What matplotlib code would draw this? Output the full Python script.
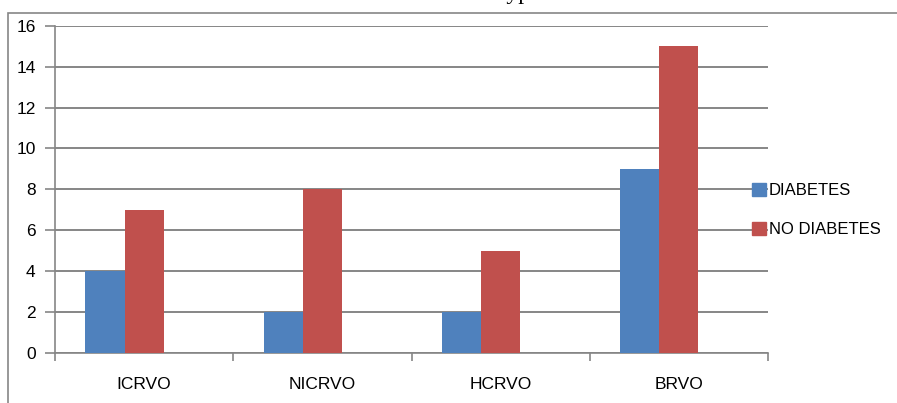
import numpy as np
import matplotlib
matplotlib.use("Agg")
import matplotlib.pyplot as plt
from matplotlib.patches import Rectangle, Patch

categories = ["ICRVO", "NICRVO", "HCRVO", "BRVO"]
diabetes = [4, 2, 2, 9]
no_diabetes = [7, 8, 5, 15]
series_names = ["DIABETES", "NO DIABETES"]
yticks = [0, 2, 4, 6, 8, 10, 12, 14, 16]

blue = "#4F81BD"
red = "#C0504D"
grid = "#868686"

W, H = 897, 403
fig = plt.figure(figsize=(W / 100, H / 100), dpi=100)
plt.rcParams['font.family'] = ['Liberation Sans', 'DejaVu Sans']

# outer chart frame (cut off on the right and bottom)
fig.patches.append(Rectangle((7.5 / W, -0.2), 1.2, 1.2 - 13 / H,
                             transform=fig.transFigure, fill=False,
                             edgecolor=grid, linewidth=1.2, clip_on=False))

# title text, cropped at the top edge as in the source image
fig.text(717 / W, 1 + 0.5 / H, "between Diabetes Mellitus and Type of Vein Occlusion",
         ha="right", va="baseline", fontsize=17, family="Liberation Serif")

ax = fig.add_axes([55 / W, (H - 353) / H, (768 - 55) / W, (353 - 25.7) / H])

x = np.arange(len(categories))
bw = 0.22
ax.bar(x - bw, diabetes, bw, color=blue, zorder=3)
ax.bar(x, no_diabetes, bw, color=red, zorder=3)

ax.set_xlim(-0.5, len(categories) - 0.5)
ax.set_ylim(0, 16)
ax.set_yticks(yticks)
ax.yaxis.grid(True, color=grid, linewidth=1.4, zorder=0)
ax.set_axisbelow(True)

ax.set_xticks(np.arange(len(categories) + 1) - 0.5)
ax.set_xticklabels([])
ax.set_xticks(x, minor=True)
ax.set_xticklabels(categories, minor=True)
ax.tick_params(axis="x", which="major", length=6, color=grid, width=1.2, direction="out")
ax.tick_params(axis="x", which="minor", length=0, pad=17, labelsize=12.5)
ax.tick_params(axis="y", length=7, color=grid, width=1.2, labelsize=12.5, pad=7)

for s in ["top", "right"]:
    ax.spines[s].set_visible(False)
for s in ["left", "bottom"]:
    ax.spines[s].set_color(grid)
    ax.spines[s].set_linewidth(1.2)

handles = [Patch(color=blue), Patch(color=red)]
fig.legend(handles, series_names, loc="center left",
           bbox_to_anchor=(744 / W, 1 - 210 / H), frameon=False,
           fontsize=12, handlelength=0.8, handleheight=0.8,
           handletextpad=0.2, labelspacing=1.45, borderpad=0)

fig.savefig("out.png", dpi=100)
